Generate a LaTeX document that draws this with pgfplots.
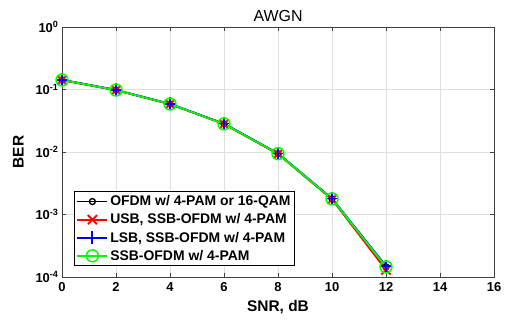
\documentclass[border=0pt]{standalone}
\usepackage{pgfplots}
\pgfplotsset{compat=1.18}
\usepackage{fontspec}
\setmainfont{Liberation Sans}
\begin{document}
\begin{tikzpicture}[x=1bp,y=1bp]
\path[use as bounding box] (0,0) rectangle (509,321);
\begin{axis}[
  at={(62bp,44bp)}, anchor=south west,
  scale only axis, width=432bp, height=250bp,
  xmin=0, xmax=16, ymin=1e-4, ymax=1,
  ymode=log, log basis y=10,
  xtick={0,2,...,16},
  ytick={1e-4,1e-3,1e-2,1e-1,1},
  grid=both,
  major grid style={gray!25, line width=0.7pt},
  minor y grid style={gray!45, dotted, line width=0.7pt},
  minor x tick num=0,
  axis line style={gray!50!black, line width=0.7pt},
  tick style={gray!50!black, line width=0.7pt},
  major tick length=4bp, minor tick length=2.5bp,
  tick align=inside,
  ticklabel style={font=\fontsize{13}{14}\selectfont\bfseries},
  xticklabel style={yshift=-2bp},
  /pgf/number format/assume math mode=true,
  yticklabel={\pgfmathparse{int(round(\tick))}10\textsuperscript{\pgfmathresult}},
  xlabel={\bfseries SNR, dB},
  ylabel={\bfseries BER},
  label style={font=\fontsize{15.5}{17}\selectfont},
  xlabel style={yshift=-2bp},
  ylabel style={yshift=5bp},
  title={AWGN},
  title style={font=\fontsize{16}{17}\selectfont, yshift=-4bp},
  legend style={at={(0.028,0.044)}, anchor=south west, draw=black, line width=0.8pt,
    font=\fontsize{14}{15}\selectfont\bfseries, row sep=2.5bp, inner sep=2bp, inner xsep=2bp},
  legend cell align=left,
  legend image code/.code={\draw[#1] (0bp,0bp) -- (30bp,0bp); \draw[#1,mark repeat=2,mark phase=2] plot coordinates {(0bp,0bp) (15bp,0bp) (30bp,0bp)};},
]
\addplot[black, line width=1.8pt, mark=o, mark size=3pt, mark options={solid, line width=1.4pt}] coordinates {
(0,0.142) (2,0.098) (4,0.0586) (6,0.0282) (8,0.0094) (10,0.00178) (12,0.000145)};
\addlegendentry{OFDM w/ 4-PAM or 16-QAM}
\addplot[red, line width=1.8pt, mark=x, mark size=6.5pt, mark options={solid, line width=1.8pt}] coordinates {
(0,0.141) (2,0.0975) (4,0.0582) (6,0.0280) (8,0.0093) (10,0.00175) (12,0.000130)};
\addlegendentry{USB, SSB-OFDM w/ 4-PAM}
\addplot[blue, line width=1.8pt, mark=+, mark size=6.5pt, mark options={solid, line width=1.8pt}] coordinates {
(0,0.143) (2,0.0985) (4,0.059) (6,0.0285) (8,0.0095) (10,0.00180) (12,0.000150)};
\addlegendentry{LSB, SSB-OFDM w/ 4-PAM}
\addplot[green, line width=1.8pt, mark=o, mark size=6pt, mark options={solid, line width=1.5pt}] coordinates {
(0,0.142) (2,0.098) (4,0.0586) (6,0.0282) (8,0.0094) (10,0.00178) (12,0.000145)};
\addlegendentry{SSB-OFDM w/ 4-PAM}
\end{axis}
\end{tikzpicture}
\end{document}
